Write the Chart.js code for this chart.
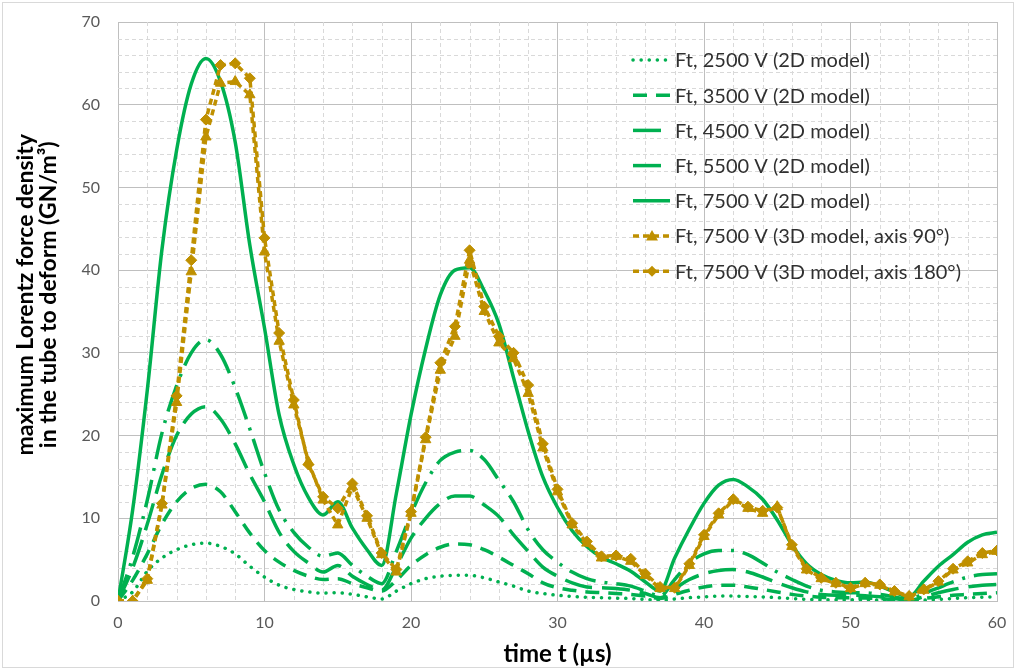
<!DOCTYPE html>
<html>
<head>
<meta charset="utf-8">
<script src="https://cdn.jsdelivr.net/npm/chart.js@4.4.1/dist/chart.umd.min.js"></script>
<style>
  html, body { margin: 0; padding: 0; background: #fff; }
</style>
</head>
<body>
<canvas id="chart" width="1016" height="670"></canvas>
<script>
// time axis (µs)
const time = [0, 1, 2, 3, 4, 5, 6, 7, 8, 9, 10, 11, 12, 13, 14, 15, 16, 17, 18, 19, 20,
  21, 22, 23, 24, 25, 26, 27, 28, 29, 30, 31, 32, 33, 34, 35, 36, 37, 38, 39, 40,
  41, 42, 43, 44, 45, 46, 47, 48, 49, 50, 51, 52, 53, 54, 55, 56, 57, 58, 59, 60];

// Ft, 2D model (GN/m3)
const ft2500 = [0, 1.1, 3.6, 5.2, 6.2, 6.8, 7.0, 6.6, 5.7, 4.2, 2.9, 1.9, 1.4, 1.1, 0.95, 1.0, 0.8, 0.5, 0.25, 1.2, 2.1,
  2.7, 3.0, 3.1, 3.1, 2.8, 2.3, 1.8, 1.2, 0.9, 0.7, 0.55, 0.45, 0.4, 0.35, 0.3, 0.2, 0.1, 0.25, 0.4, 0.5,
  0.6, 0.6, 0.55, 0.5, 0.4, 0.3, 0.2, 0.15, 0.15, 0.15, 0.15, 0.1, 0.05, 0.02, 0.1, 0.2, 0.3, 0.4, 0.45, 0.5];
const ft3500 = [0, 2.5, 5.7, 9.3, 12, 13.6, 14.1, 13.2, 10.8, 8.2, 6.1, 4.7, 3.7, 3.0, 2.6, 2.7, 2.1, 1.6, 1.2, 2.5, 4.3,
  5.6, 6.5, 6.9, 6.8, 6.2, 5.3, 4.3, 3.3, 2.2, 1.6, 1.3, 1.1, 1.0, 0.9, 0.8, 0.6, 0.3, 0.8, 1.3, 1.7,
  1.9, 1.9, 1.7, 1.4, 1.1, 0.8, 0.6, 0.45, 0.4, 0.4, 0.35, 0.3, 0.15, 0.05, 0.3, 0.5, 0.7, 0.8, 0.9, 1.0];
const ft4500 = [0, 4, 9.3, 15.3, 20, 22.6, 23.5, 22, 19, 15.3, 12, 8.3, 6.0, 4.6, 3.5, 4.3, 3.0, 2.0, 1.3, 4.2, 7.6,
  10, 11.8, 12.7, 12.7, 11.6, 10.2, 8.0, 6.0, 4.1, 3.0, 2.2, 1.7, 1.6, 1.5, 1.3, 0.9, 0.4, 1.5, 2.6, 3.3,
  3.7, 3.8, 3.5, 2.9, 2.2, 1.6, 1.1, 0.8, 0.7, 0.7, 0.65, 0.5, 0.3, 0.1, 0.5, 1.0, 1.4, 1.7, 1.9, 2.0];
const ft5500 = [0, 5.3, 12.2, 20.3, 26, 30, 31.6, 29.8, 25.8, 20.8, 15.5, 11, 8.3, 6.5, 5.4, 5.8, 4.3, 3.0, 2.1, 6, 10.5,
  14.3, 17, 18, 18.2, 17.1, 14.6, 12, 8.6, 6.2, 4.7, 3.5, 2.7, 2.3, 2.1, 1.8, 1.2, 0.6, 2.6, 4.6, 5.7,
  6.1, 6.1, 5.6, 4.6, 3.5, 2.6, 1.8, 1.3, 1.1, 1.0, 1.0, 0.8, 0.5, 0.2, 0.9, 1.6, 2.3, 2.9, 3.2, 3.3];
const ft7500 = [0, 11, 25.5, 42.5, 54.5, 62.5, 65.6, 62.8, 55.5, 43, 33, 22.5, 16.5, 12.5, 10.4, 12, 8.8, 6.2, 4.3, 13, 22.5,
  30.5, 37, 40, 40.3, 37.5, 33.5, 27, 20.5, 15, 11.3, 8.5, 6.6, 5.3, 4.5, 3.6, 2.3, 1.2, 5.2, 8.7, 11.8,
  14, 14.7, 13.8, 12.3, 9.8, 6.8, 4.5, 3.2, 2.5, 2.2, 2.3, 1.8, 1.1, 0.5, 2.4, 4.2, 5.6, 7.1, 8, 8.3];

// Ft, 7500 V, 3D model
const ft3dAxis90 = [0, 0, 2.5, 11.6, 24, 39.8, 56.1, 62.6, 62.8, 61.2, 42.2, 31.4, 23.7, 16.8, 12.2, 9.2, 13.8, 10.0, 5.6, 3.5, 10.6,
  19.5, 27.9, 32, 41.2, 35, 31.2, 29.3, 25.1, 18.5, 13.2, 9.2, 7.0, 5.2, 5.4, 4.8, 3.1, 1.5, 1.5, 4.3, 7.8,
  10.4, 12.2, 11.2, 10.6, 11.4, 6.6, 3.75, 2.7, 2.1, 1.5, 2.1, 1.9, 1.1, 0.5, 1.3, 2.3, 3.75, 4.6, 5.6, 6.0];
const ft3dAxis180 = [0, 0, 2.7, 11.8, 24.8, 41.2, 58.2, 64.8, 65.0, 63.2, 43.9, 32.4, 24.3, 16.5, 12.6, 11.2, 14.2, 10.3, 5.8, 3.8, 10.8,
  19.8, 28.8, 33.2, 42.4, 35.6, 32, 30, 26.1, 19, 13.5, 9.4, 7.2, 5.4, 5.5, 5.1, 3.3, 1.7, 1.6, 4.5, 8.0,
  10.6, 12.3, 11.4, 10.9, 11.3, 6.8, 3.9, 2.8, 2.2, 1.6, 2.2, 2.0, 1.2, 0.6, 1.4, 2.4, 3.9, 4.8, 5.8, 6.1];

const seriesLabels = [
  'Ft, 2500 V (2D model)',
  'Ft, 3500 V (2D model)',
  'Ft, 4500 V (2D model)',
  'Ft, 5500 V (2D model)',
  'Ft, 7500 V (2D model)',
  'Ft, 7500 V (3D model, axis 90°)',
  'Ft, 7500 V (3D model, axis 180°)'
];
const xTicks = [0, 10, 20, 30, 40, 50, 60];
const yTicks = [0, 10, 20, 30, 40, 50, 60, 70];

const GREEN = '#00B050';
const GOLD = '#BF9000';
const FONT = 'Lato';

function pts(values) {
  return values.map((v, i) => ({ x: time[i], y: v }));
}

function green(label, values, dash, cap, order) {
  return {
    label, data: pts(values),
    borderColor: GREEN, backgroundColor: GREEN,
    borderWidth: 3.5, borderDash: dash, borderCapStyle: cap,
    pointRadius: 0, cubicInterpolationMode: 'monotone', order
  };
}

function gold(label, values, style, order) {
  return {
    label, data: pts(values),
    borderColor: GOLD, backgroundColor: GOLD,
    borderWidth: 3.5, borderDash: [6, 4], borderCapStyle: 'butt',
    pointStyle: style, pointRadius: style === 'triangle' ? 6 : 5.5,
    pointBackgroundColor: GOLD, pointBorderColor: GOLD, pointBorderWidth: 1,
    tension: 0, order
  };
}

// dashed minor grid every 2 units
const minorGrid = {
  id: 'minorGrid',
  beforeDatasetsDraw(chart) {
    const { ctx, chartArea: a, scales: { x, y } } = chart;
    ctx.save();
    ctx.strokeStyle = '#D9D9D9';
    ctx.lineWidth = 1;
    ctx.setLineDash([4, 3]);
    ctx.beginPath();
    for (let v = 2; v < 60; v += 2) {
      if (v % 10 === 0) continue;
      const px = Math.round(x.getPixelForValue(v)) + 0.5;
      ctx.moveTo(px, a.top); ctx.lineTo(px, a.bottom);
    }
    for (let v = 2; v < 70; v += 2) {
      if (v % 10 === 0) continue;
      const py = Math.round(y.getPixelForValue(v)) + 0.5;
      ctx.moveTo(a.left, py); ctx.lineTo(a.right, py);
    }
    ctx.stroke();
    ctx.restore();
  }
};

const frame = {
  id: 'frame',
  beforeDraw(chart) {
    const { ctx, width, height } = chart;
    ctx.save();
    ctx.fillStyle = '#fff';
    ctx.fillRect(0, 0, width, height);
    ctx.strokeStyle = '#D9D9D9';
    ctx.lineWidth = 1;
    ctx.strokeRect(2.5, 2.5, width - 5, height - 5);
    ctx.restore();
  }
};

function drawMarker(ctx, style, x, y, r) {
  ctx.beginPath();
  if (style === 'triangle') {
    ctx.moveTo(x, y - r);
    ctx.lineTo(x + r, y + r * 0.75);
    ctx.lineTo(x - r, y + r * 0.75);
  } else {
    ctx.moveTo(x, y - r);
    ctx.lineTo(x + r, y);
    ctx.lineTo(x, y + r);
    ctx.lineTo(x - r, y);
  }
  ctx.closePath();
  ctx.fill();
}

// legend inside the plot, upper right
const insideLegend = {
  id: 'insideLegend',
  afterDraw(chart) {
    const ctx = chart.ctx;
    ctx.save();
    chart.data.datasets.forEach((ds, i) => {
      const y = 60 + i * 35.2;
      ctx.strokeStyle = ds.borderColor;
      ctx.lineWidth = ds.borderWidth;
      ctx.lineCap = ds.borderCapStyle || 'butt';
      ctx.setLineDash(ds.borderDash || []);
      ctx.beginPath();
      ctx.moveTo(633, y);
      ctx.lineTo(670, y);
      ctx.stroke();
      if (ds.pointRadius > 0) {
        ctx.setLineDash([]);
        ctx.fillStyle = ds.pointBackgroundColor;
        drawMarker(ctx, ds.pointStyle, 652, y, ds.pointRadius);
      }
      ctx.fillStyle = '#303030';
      ctx.font = '20px ' + FONT;
      ctx.textBaseline = 'middle';
      ctx.textAlign = 'left';
      ctx.fillText(ds.label, 675, y + 1);
    });
    ctx.restore();
  }
};

new Chart(document.getElementById('chart'), {
  type: 'line',
  data: {
    datasets: [
      green(seriesLabels[0], ft2500, [0.1, 8], 'round', 6),
      green(seriesLabels[1], ft3500, [14, 9], 'butt', 5),
      green(seriesLabels[2], ft4500, [28, 10], 'butt', 4),
      green(seriesLabels[3], ft5500, [28, 9, 3, 9], 'butt', 3),
      green(seriesLabels[4], ft7500, [], 'butt', 2),
      gold(seriesLabels[5], ft3dAxis90, 'triangle', 1),
      gold(seriesLabels[6], ft3dAxis180, 'rectRot', 0)
    ]
  },
  options: {
    responsive: false,
    animation: false,
    layout: { padding: { top: 22, right: 19, left: 0, bottom: 0 } },
    plugins: {
      legend: { display: false },
      tooltip: { enabled: false }
    },
    scales: {
      x: {
        type: 'linear', min: 0, max: 60,
        afterBuildTicks: s => { s.ticks = xTicks.map(v => ({ value: v })); },
        ticks: { color: '#595959', font: { family: FONT, size: 16 }, padding: 12 },
        grid: { color: '#BFBFBF', lineWidth: 1, drawTicks: false },
        border: { display: true, color: '#BFBFBF' },
        title: {
          display: true, text: 'time t (µs)', color: '#000',
          font: { family: FONT, size: 24, weight: 'bold', lineHeight: 1.2 }, padding: { top: 0, bottom: 1 }
        },
        afterFit: s => { s.height = 69; s.paddingLeft = 0; s.paddingRight = 0; }
      },
      y: {
        type: 'linear', min: 0, max: 70,
        afterBuildTicks: s => { s.ticks = yTicks.map(v => ({ value: v })); },
        ticks: { color: '#595959', font: { family: FONT, size: 16 }, padding: 18 },
        grid: { color: '#BFBFBF', lineWidth: 1, drawTicks: false },
        border: { display: true, color: '#BFBFBF' },
        title: {
          display: true,
          text: ['      maximum Lorentz force density', '      in the tube to deform (GN/m³)'],
          color: '#000',
          font: { family: FONT, size: 23, weight: 'bold', lineHeight: 1.0 }, padding: { top: 14, bottom: 0 }
        },
        afterFit: s => { s.width = 118; s.paddingTop = 0; s.paddingBottom = 0; }
      }
    }
  },
  plugins: [frame, minorGrid, insideLegend]
});
</script>
</body>
</html>
